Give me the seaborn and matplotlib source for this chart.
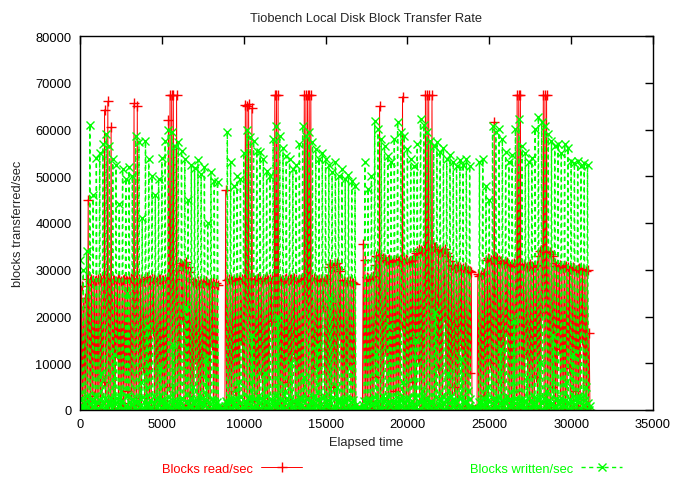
import numpy as np
import pandas as pd
import matplotlib
matplotlib.use("Agg")
import matplotlib.pyplot as plt
from matplotlib.lines import Line2D
import seaborn as sns

# vmstat-style samples taken every 50 s over four tiobench passes
sample_interval = 50

blocks_read = [
    12000, 0, 26500, 0, 22000, 0, 24000, 0, 28000, 1500,
    45000, 0, 27500, 0, 28000, 500, 27800, 3000, 27600, 0,
    27900, 0, 28100, 1000, 28200, 0, 27800, 0, 28000, 6000,
    64200, 0, 28300, 0, 66000, 0, 27700, 2000, 60500, 0,
    28000, 0, 27900, 0, 27600, 12000, 28300, 0, 28100, 0,
    27500, 1500, 27900, 0, 28000, 0, 28200, 4000, 27700, 0,
    27800, 0, 28200, 0, 28000, 0, 65600, 0, 27900, 1000,
    65000, 0, 28100, 0, 28000, 2500, 27700, 9000, 27600, 0,
    28000, 0, 28400, 0, 27800, 0, 27900, 500, 28200, 17000,
    28100, 0, 27600, 0, 27500, 0, 28000, 2500, 28000, 0,
    27900, 0, 27800, 0, 28100, 0, 28300, 0, 62000, 5000,
    67300, 0, 67300, 0, 67300, 0, 28000, 0, 67300, 0,
    30000, 0, 31500, 0, 31000, 20000, 30800, 0, 31200, 0,
    31600, 1000, 30500, 3000, 29500, 0, 28000, 0, 27400, 0,
    27300, 11000, 27000, 0, 27500, 0, 27600, 0, 27100, 0,
    27200, 1500, 27400, 7000, 27500, 0, 27000, 0, 26900, 0,
    27200, 14000, 27400, 0, 27000, 0, 27100, 0, 26800, 0,
    0, 0, 0, 0, 0, 0, 0, 0, 47000, 0,
    27800, 0, 28000, 0, 28100, 0, 27700, 0, 27900, 4000,
    28200, 0, 28000, 0, 27900, 1000, 27600, 15000, 28100, 0,
    28000, 0, 65200, 0, 65000, 0, 65500, 0, 28100, 0,
    64600, 0, 27900, 2000, 27800, 0, 28000, 0, 28300, 0,
    28100, 8000, 27600, 0, 27900, 0, 28000, 500, 28200, 0,
    27900, 0, 28000, 19000, 28200, 0, 27800, 0, 67300, 0,
    67300, 0, 67300, 0, 28000, 1000, 27700, 0, 27900, 0,
    28100, 0, 28300, 6000, 27800, 0, 28000, 0, 28000, 1500,
    27900, 12000, 28300, 0, 28100, 0, 27600, 0, 28000, 0,
    28000, 0, 28200, 3000, 67300, 0, 67300, 0, 67300, 0,
    67300, 0, 67300, 0, 28000, 0, 28200, 0, 27800, 9000,
    27900, 0, 28100, 0, 28100, 1000, 27900, 22000, 27700, 0,
    28000, 0, 28000, 0, 30500, 0, 31200, 0, 31000, 5000,
    30600, 0, 31300, 0, 31400, 0, 30200, 16000, 29800, 0,
    27800, 0, 27600, 0, 27400, 0, 27300, 0, 27500, 10000,
    27600, 0, 27300, 0, 27200, 0, 27000, 0, 0, 0,
    0, 0, 0, 0, 0, 0, 35500, 0, 32000, 0,
    28400, 0, 28200, 2000, 28000, 0, 28500, 0, 28600, 0,
    31000, 7000, 33000, 0, 32800, 0, 65000, 0, 33200, 0,
    32500, 0, 32000, 13000, 31800, 0, 32100, 0, 32200, 0,
    31900, 0, 31600, 0, 32100, 4000, 32000, 0, 31800, 0,
    31900, 0, 32200, 18000, 67000, 0, 32000, 0, 32300, 0,
    32000, 0, 31700, 0, 31900, 6000, 32000, 0, 32800, 0,
    33500, 0, 34000, 11000, 34500, 0, 34200, 0, 34000, 0,
    34500, 0, 67300, 0, 67300, 2000, 67300, 0, 34600, 0,
    67300, 0, 34900, 0, 34800, 0, 34400, 9000, 34200, 0,
    34000, 0, 33800, 0, 34300, 20000, 34500, 0, 33600, 0,
    33000, 0, 31800, 0, 31000, 0, 30700, 5000, 30400, 0,
    30600, 0, 30800, 0, 30500, 14000, 30200, 0, 30400, 0,
    30600, 0, 30300, 0, 30000, 0, 29800, 8000, 29600, 0,
    0, 0, 300, 0, 0, 0, 29000, 0, 28700, 0,
    28800, 0, 29100, 3000, 29200, 0, 32000, 0, 32500, 0,
    32300, 10000, 32000, 0, 32400, 0, 61500, 0, 32800, 0,
    32600, 0, 32000, 6000, 31800, 0, 31500, 0, 31200, 0,
    31400, 17000, 31600, 0, 31000, 0, 30800, 0, 31200, 0,
    31400, 0, 31000, 4000, 67300, 0, 67300, 0, 67300, 0,
    31200, 0, 31000, 0, 30800, 12000, 30600, 0, 30900, 0,
    31200, 0, 30700, 0, 30500, 0, 30800, 7000, 31000, 0,
    33000, 0, 34000, 0, 34200, 21000, 67300, 0, 67300, 0,
    67300, 0, 34000, 0, 33800, 0, 33400, 5000, 33000, 0,
    31500, 0, 30800, 0, 30600, 13000, 31000, 0, 30700, 0,
    30400, 0, 30600, 0, 30800, 0, 30500, 9000, 30200, 0,
    30400, 0, 30600, 0, 30300, 4000, 30000, 0, 30200, 0,
    30400, 0, 30000, 15000, 30100, 0, 29900, 0, 29800, 0,
    30000, 0, 16500, 0,
]

blocks_written = [
    32000, 2500, 1000, 500, 30000, 1500, 0, 800, 34000, 3000,
    2000, 0, 61000, 1200, 0, 2000, 46000, 600, 3000, 0,
    53900, 1800, 500, 0, 55000, 2200, 8000, 1000, 57000, 0,
    0, 2500, 59000, 700, 1500, 0, 56500, 1600, 2500, 400,
    53700, 0, 12000, 1400, 52500, 2600, 800, 0, 44000, 1100,
    4000, 2000, 51500, 0, 0, 900, 49500, 3000, 25000, 500,
    52000, 1700, 1200, 0, 50000, 2300, 2000, 600, 58600, 0,
    0, 1900, 57300, 800, 6000, 0, 41000, 2700, 1800, 300,
    57500, 0, 18000, 1300, 53700, 2100, 0, 700, 50000, 0,
    3000, 1500, 46000, 2400, 600, 0, 49500, 1000, 9000, 2200,
    54000, 0, 2200, 800, 57500, 1600, 1000, 0, 60000, 2800,
    0, 500, 59500, 1300, 14000, 0, 56500, 2000, 1400, 600,
    57300, 0, 2000, 1400, 55500, 2500, 0, 300, 53700, 1700,
    22000, 0, 45000, 900, 900, 2300, 52500, 0, 5000, 1200,
    51800, 2000, 0, 600, 53500, 0, 3000, 1500, 50500, 2600,
    1600, 0, 52000, 1000, 11000, 2100, 40000, 0, 0, 1300,
    51000, 2400, 2000, 0, 49000, 1100, 700, 1800, 48800, 0,
    800, 0, 0, 500, 300, 0, 0, 800, 2000, 1500,
    59500, 0, 0, 1700, 53000, 2500, 2000, 0, 48000, 900,
    1200, 2200, 50000, 0, 6000, 1400, 49400, 2700, 0, 600,
    55000, 1900, 1000, 0, 60000, 1200, 2400, 2800, 58400, 0,
    16000, 700, 57500, 2300, 0, 1000, 55400, 0, 3000, 1600,
    55200, 2600, 900, 0, 53700, 1300, 8000, 2000, 51100, 0,
    0, 900, 50000, 2400, 2000, 0, 58000, 1100, 1500, 2900,
    60700, 0, 20000, 1500, 58600, 2200, 0, 600, 56000, 0,
    4000, 1800, 54300, 2500, 1100, 0, 53700, 1400, 10000, 700,
    51500, 2000, 0, 0, 52500, 1200, 1500, 2600, 57000, 0,
    2600, 1000, 60700, 1900, 7000, 0, 58600, 2400, 0, 800,
    59500, 0, 2000, 1600, 57300, 2800, 700, 0, 55800, 1100,
    14000, 2100, 53700, 0, 0, 1300, 55000, 2500, 3000, 0,
    53700, 900, 1300, 2200, 52500, 0, 24000, 1500, 51000, 2700,
    0, 500, 53000, 0, 5000, 1800, 50000, 2300, 1800, 0,
    51500, 1200, 2000, 0, 49500, 2600, 0, 900, 50200, 0,
    9000, 1700, 49000, 2200, 600, 0, 48000, 1000, 0, 0,
    500, 0, 0, 300, 0, 0, 1000, 2000, 53000, 0,
    0, 1500, 47300, 2400, 2000, 0, 50000, 1100, 1500, 2700,
    61800, 0, 12000, 1300, 60100, 2000, 0, 600, 58000, 0,
    3000, 1900, 56500, 2500, 1000, 0, 54300, 1400, 18000, 800,
    53000, 2200, 0, 0, 58000, 1600, 1000, 2800, 61600, 0,
    2400, 1000, 59500, 2100, 6000, 0, 58600, 1500, 0, 2400,
    55800, 0, 2500, 1200, 53700, 1900, 900, 0, 52200, 2600,
    15000, 700, 57000, 0, 0, 1700, 62200, 2300, 4000, 0,
    61000, 1000, 1700, 2500, 59500, 0, 1000, 1400, 57500, 2000,
    0, 0, 56500, 1100, 21000, 2700, 57300, 0, 1200, 900,
    55200, 2200, 3000, 0, 56000, 1300, 0, 2400, 53700, 0,
    8000, 1600, 54500, 2900, 2100, 0, 53000, 800, 2000, 1800,
    52200, 0, 0, 1100, 53500, 2500, 11000, 0, 52500, 1500,
    1400, 2000, 53700, 0, 4000, 900, 52200, 2300, 0, 0,
    300, 0, 0, 400, 500, 0, 0, 1800, 53000, 0,
    2000, 1300, 53700, 2600, 800, 0, 47900, 1200, 5000, 2100,
    45000, 0, 0, 1500, 60700, 2400, 1000, 0, 59400, 900,
    2200, 2800, 60100, 0, 13000, 1200, 58000, 2000, 0, 0,
    55200, 1700, 3000, 0, 53000, 2300, 1500, 600, 54500, 0,
    19000, 1400, 60100, 2600, 0, 0, 62200, 1100, 2000, 2200,
    56500, 0, 700, 1900, 55000, 0, 7000, 1300, 53000, 2500,
    0, 0, 54000, 1000, 1500, 2700, 60100, 0, 2400, 800,
    62700, 2100, 10000, 0, 61500, 1400, 0, 2500, 60700, 0,
    4000, 1100, 59000, 2200, 1100, 0, 57500, 1600, 16000, 600,
    56500, 2300, 0, 0, 57000, 1200, 2000, 2600, 55000, 0,
    1300, 900, 56800, 2000, 6000, 0, 56000, 1500, 0, 2400,
    53300, 0, 12000, 1300, 52800, 2100, 2600, 0, 53300, 1700,
    3000, 2500, 52200, 0, 900, 1000, 52800, 2200, 5000, 0,
    52500, 1400, 0, 800,
]

series_names = ["Blocks read/sec", "Blocks written/sec"]
series_colors = ["#ff0000", "#00ff00"]
x_ticks = [0, 5000, 10000, 15000, 20000, 25000, 30000, 35000]
y_ticks = [0, 10000, 20000, 30000, 40000, 50000, 60000, 70000, 80000]

elapsed = np.arange(len(blocks_read)) * sample_interval
reads_df = pd.DataFrame({"elapsed": elapsed, "rate": blocks_read})
writes_df = pd.DataFrame({"elapsed": elapsed, "rate": blocks_written})

sns.set_theme(style="white")
plt.rcParams["font.family"] = ["Liberation Sans", "DejaVu Sans"]

fig = plt.figure(figsize=(6.74, 4.85), dpi=100)
ax = fig.add_axes([80 / 674, 1 - 411 / 485, 573 / 674, 374 / 485])

read_style = dict(color=series_colors[0], marker="+", markersize=7,
                  markeredgewidth=1, markeredgecolor=series_colors[0],
                  linewidth=0.7, linestyle="-")
write_style = dict(color=series_colors[1], marker="x", markersize=6,
                   markeredgewidth=1, markeredgecolor=series_colors[1],
                   linewidth=1.0, linestyle=(0, (3, 2.5)))

sns.lineplot(data=reads_df, x="elapsed", y="rate", estimator=None, sort=False,
             legend=False, ax=ax, **read_style)
sns.lineplot(data=writes_df, x="elapsed", y="rate", estimator=None, sort=False,
             legend=False, ax=ax, **write_style)

ax.set_xlim(0, 35000)
ax.set_ylim(0, 80000)
ax.set_xticks(x_ticks)
ax.set_yticks(y_ticks)
ax.set_xticklabels([str(v) for v in x_ticks])
ax.set_yticklabels([str(v) for v in y_ticks])
ax.tick_params(direction="in", top=True, right=True, length=6, width=1,
               color="black", labelsize=9.3, pad=6, labelcolor="black")
for side in ax.spines.values():
    side.set_color("black")
    side.set_linewidth(1)

ax.set_title("Tiobench Local Disk Block Transfer Rate", fontsize=9.3, pad=11)
ax.set_xlabel("Elapsed time", fontsize=9.3)
ax.set_ylabel("blocks transferred/sec", fontsize=9.3)
ax.xaxis.set_label_coords(0.5, -0.07)
ax.yaxis.set_label_coords(-0.098, 0.5)

handles = [
    Line2D([], [], **read_style),
    Line2D([], [], **write_style),
]
ax.legend(handles, series_names, ncol=2, markerfirst=False, labelcolor="linecolor",
          frameon=False, loc="center", bbox_to_anchor=(0.582, 0.031),
          bbox_transform=fig.transFigure, handlelength=3.2, handletextpad=0.6,
          columnspacing=13, fontsize=9.3)

fig.savefig("out.png", dpi=100, facecolor="white")
